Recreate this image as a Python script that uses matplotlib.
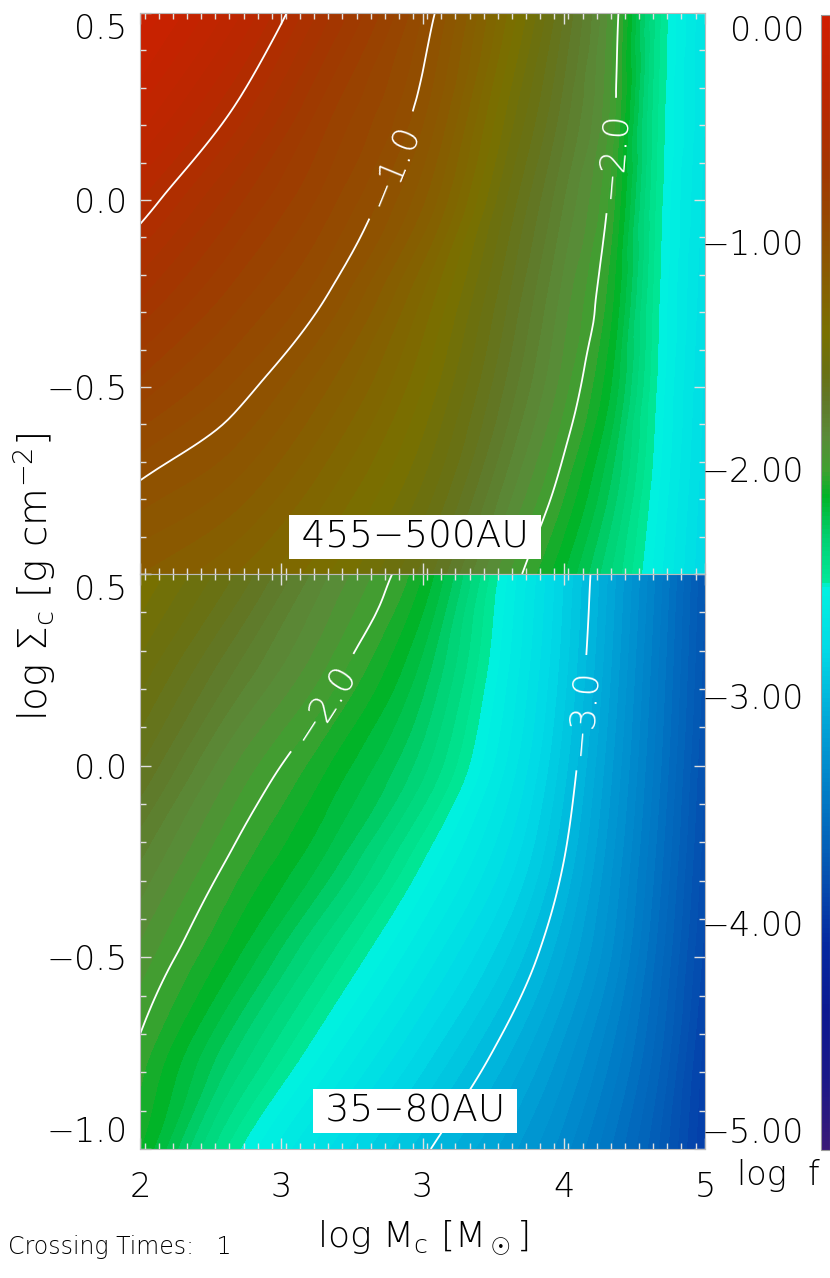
import numpy as np
import matplotlib
matplotlib.use('Agg')
import matplotlib.pyplot as plt
import matplotlib.tri as mtri
from matplotlib.colors import LinearSegmentedColormap, Normalize
from matplotlib.cm import ScalarMappable
from matplotlib.ticker import MultipleLocator

plt.rcParams['font.family'] = ['DejaVu Sans']
plt.rcParams['font.weight'] = 'light'
plt.rcParams['axes.labelweight'] = 'light'
plt.rcParams['mathtext.fontset'] = 'custom'
plt.rcParams['mathtext.rm'] = 'DejaVu Sans:light'
plt.rcParams['mathtext.it'] = 'DejaVu Sans:light'
plt.rcParams['mathtext.default'] = 'rm'

#==============================================================================
# Data (log f on a coarse grid)
#==============================================================================
log_m = [2.0, 2.5, 3.0, 3.5, 4.0, 4.25, 4.5, 4.75, 5.0]
log_sigma = [-1.0, -0.75, -0.5, -0.25, 0.0, 0.25, 0.5]

# rows follow log_sigma (bottom -> top), columns follow log_m
logf_455_500 = [
    [-1.15, -1.25, -1.40, -1.62, -1.98, -2.15, -2.35, -2.58, -2.80],
    [-1.00, -1.10, -1.28, -1.50, -1.85, -2.03, -2.25, -2.54, -2.78],
    [-0.82, -0.96, -1.15, -1.40, -1.75, -1.93, -2.15, -2.51, -2.76],
    [-0.64, -0.82, -1.00, -1.30, -1.68, -1.87, -2.08, -2.49, -2.74],
    [-0.45, -0.68, -0.88, -1.14, -1.60, -1.80, -2.02, -2.47, -2.72],
    [-0.25, -0.50, -0.78, -1.03, -1.50, -1.72, -1.96, -2.45, -2.70],
    [-0.10, -0.33, -0.64, -0.95, -1.40, -1.65, -1.93, -2.43, -2.70],
]

logf_35_80 = [
    [-2.10, -2.48, -2.75, -2.98, -3.20, -3.33, -3.50, -3.70, -3.95],
    [-2.02, -2.30, -2.57, -2.82, -3.07, -3.22, -3.40, -3.63, -3.92],
    [-1.92, -2.14, -2.40, -2.66, -2.93, -3.10, -3.30, -3.57, -3.87],
    [-1.80, -2.02, -2.22, -2.50, -2.80, -3.00, -3.24, -3.52, -3.83],
    [-1.65, -1.90, -2.10, -2.33, -2.70, -2.93, -3.19, -3.48, -3.80],
    [-1.52, -1.75, -1.96, -2.22, -2.64, -2.88, -3.15, -3.45, -3.77],
    [-1.40, -1.60, -1.85, -2.10, -2.60, -2.85, -3.12, -3.42, -3.75],
]

panel_names = ['\u2009455\u2212500AU\u2009', '\u200935\u221280AU\u2009']

x_ticks = [2.0, 2.75, 3.5, 4.25, 5.0]
x_ticklabels = ['2', '3', '3', '4', '5']
y_ticks = [-1.0, -0.5, 0.0, 0.5]
y_ticklabels = ['\u22121.0', '\u22120.5', '0.0', '0.5']
cbar_ticks = [-5, -4, -3, -2, -1, 0]
cbar_ticklabels = ['\u22125.00', '\u22124.00', '\u22123.00', '\u22122.00', '\u22121.00', '0.00']
contour_levels = [-4.0, -3.0, -2.0, -1.0, -0.5]

# colour table
cmap_vals = [-5.0, -4.7, -4.4, -4.1, -3.8, -3.4, -3.1, -2.8, -2.52, -2.49, -2.3,
             -2.12, -2.0, -1.85, -1.7, -1.55, -1.4, -1.2, -1.0, -0.7, -0.4, 0.0]
cmap_cols = ['#3a1a78', '#1a1888', '#0c1890', '#0428a0', '#0450b0', '#0080c8',
             '#00a8d8', '#00dae6', '#00f2e0', '#00e898', '#00d070', '#00b428',
             '#40a030', '#5a8a38', '#607828', '#6a7010', '#787000', '#856000',
             '#905000', '#a03800', '#b82800', '#d01e00']

#==============================================================================
# Plot
#==============================================================================
vmin, vmax = -5.0, 0.0
cmap = LinearSegmentedColormap.from_list(
    'logf', [((v - vmin) / (vmax - vmin), c) for v, c in zip(cmap_vals, cmap_cols)])
norm = Normalize(vmin, vmax)

W, H = 830, 1278
fig = plt.figure(figsize=(W / 100, H / 100), dpi=100)

def fx(px):
    return px / W

def fy(py):
    return 1 - py / H

ax_top = fig.add_axes([fx(140), fy(574), fx(705) - fx(140), fy(13) - fy(574)])
ax_bot = fig.add_axes([fx(140), fy(1149), fx(705) - fx(140), fy(574) - fy(1149)])

def fmt(v):
    return ('%.1f' % v).replace('-', '\u2212')

# grid cells split along the lower-left / upper-right diagonal
nx, ny = len(log_m), len(log_sigma)
X, Y = np.meshgrid(log_m, log_sigma)
triangles = []
for j in range(ny - 1):
    for i in range(nx - 1):
        a, b = j * nx + i, j * nx + i + 1
        c, d = a + nx, b + nx
        triangles.append([a, b, d])
        triangles.append([a, d, c])
tri = mtri.Triangulation(X.ravel(), Y.ravel(), triangles)
refiner = mtri.UniformTriRefiner(tri)

panels = [(ax_top, logf_455_500, [(3.30, 0.10), (4.48, 0.12)]),
          (ax_bot, logf_35_80, [(2.95, 0.17), (4.30, 0.14)])]

for i, (ax, z, spots) in enumerate(panels):
    z = np.array(z).ravel()
    interp = mtri.CubicTriInterpolator(tri, z, kind='geom')
    tri_f, z_f = refiner.refine_field(z, triinterpolator=interp, subdiv=4)
    ax.tricontourf(tri_f, z_f, levels=np.linspace(vmin, vmax, 101), cmap=cmap,
                   norm=norm, extend='both')
    cs = ax.tricontour(tri_f, z_f, levels=contour_levels, colors='white',
                       linewidths=1.3, linestyles='solid')
    ax.clabel(cs, manual=spots, inline=True, inline_spacing=14, fontsize=26,
              fmt=fmt, colors='white')
    ax.set_xlim(2, 5)
    ax.set_ylim(-1.0, 0.5)
    ax.set_xticks(x_ticks)
    ax.set_yticks(y_ticks)
    ax.xaxis.set_minor_locator(MultipleLocator(0.075))
    ax.yaxis.set_minor_locator(MultipleLocator(0.1))
    ax.tick_params(which='both', direction='in', top=True, right=True,
                   color='#e0e0e0', width=1.0, labelsize=24)
    ax.tick_params(which='major', length=8, pad=9)
    ax.tick_params(which='minor', length=4.5)
    ax.tick_params(axis='x', pad=16)
    for s in ax.spines.values():
        s.set_color('#bbbbbb')
    ax.text(0.487, 0.066, panel_names[i], transform=ax.transAxes, ha='center',
            va='center', fontsize=27, color='black',
            bbox=dict(boxstyle='square,pad=0.12', fc='white', ec='none'))

ax_top.set_xticklabels([])
ax_top.set_yticklabels([''] + y_ticklabels[1:])
ax_bot.set_xticklabels(x_ticklabels)
ax_bot.set_yticklabels(y_ticklabels)
ax_top.get_yticklabels()[-1].set_va('top')
ax_bot.get_yticklabels()[-1].set_va('top')
ax_bot.get_yticklabels()[0].set_va('bottom')

ax_bot.set_xlabel(r'log M$_\mathrm{c}$ [M$_\odot$]', fontsize=26, labelpad=10,
                  fontweight='light')
fig.text(fx(34), fy(577), r'log $\Sigma_\mathrm{c}$ [g cm$^{-2}$]', rotation=90,
         ha='center', va='center', fontsize=28, fontweight='light')
fig.text(fx(8), fy(1247), 'Crossing Times:   1', ha='left', va='center',
         fontsize=17)

# colour bar
cax = fig.add_axes([fx(821), fy(1150), fx(830) - fx(821), fy(15) - fy(1150)])
cb = fig.colorbar(ScalarMappable(norm=norm, cmap=cmap), cax=cax, ticks=cbar_ticks)
cb.outline.set_edgecolor('#999999')
cax.yaxis.set_ticks_position('left')
cax.set_yticklabels(cbar_ticklabels)
cax.tick_params(length=0, pad=12, labelsize=24)
cax.get_yticklabels()[-1].set_va('top')
cax.get_yticklabels()[0].set_va('bottom')
fig.text(fx(778), fy(1176), 'log  f', ha='center', va='center', fontsize=24)

fig.savefig('out.png', dpi=100)
